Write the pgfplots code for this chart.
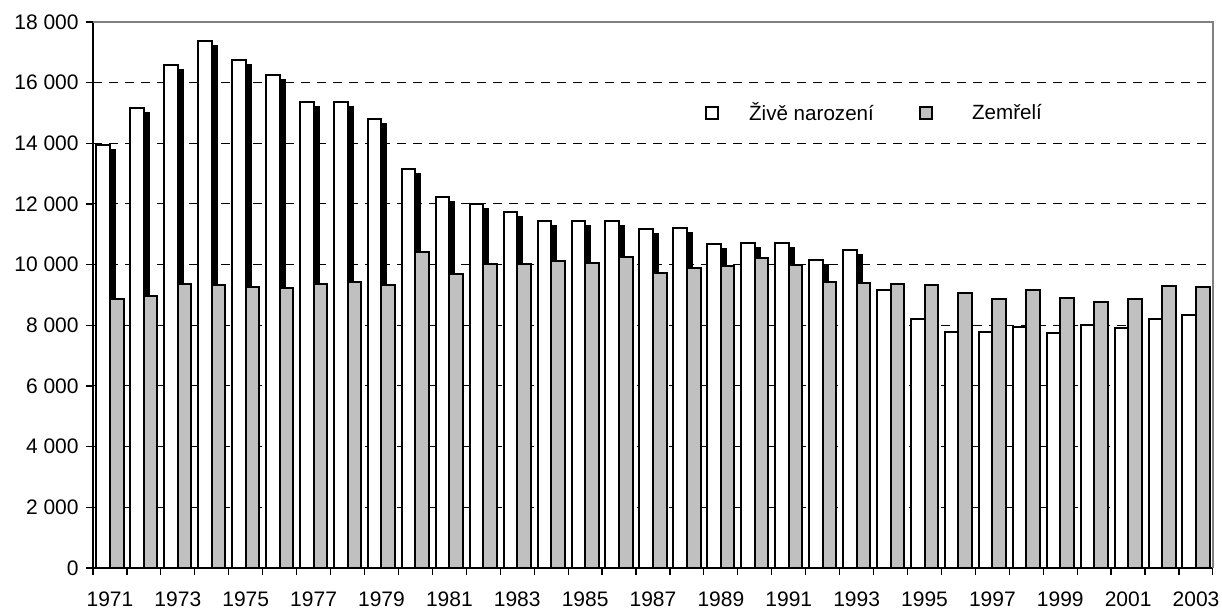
\documentclass[border=0pt]{standalone}
\usepackage{pgfplots}
\pgfplotsset{compat=1.18}
\usepackage{pgfplotstable}
\usepackage{fontspec}
\setmainfont{Liberation Sans}
\usetikzlibrary{shadows}

\definecolor{barGray}{RGB}{192,192,192}
\definecolor{frameGray}{RGB}{128,128,128}

% year, live births, deaths
\pgfplotstableread{
year born died
1971 13950 8880
1972 15150 8980
1973 16590 9360
1974 17380 9320
1975 16750 9270
1976 16250 9230
1977 15370 9370
1978 15350 9430
1979 14800 9320
1980 13150 10430
1981 12230 9680
1982 12000 10020
1983 11730 10020
1984 11430 10110
1985 11430 10050
1986 11430 10240
1987 11190 9710
1988 11210 9900
1989 10690 9970
1990 10730 10230
1991 10730 9990
1992 10140 9430
1993 10480 9410
1994 9170 9360
1995 8210 9320
1996 7780 9080
1997 7780 8870
1998 7960 9170
1999 7760 8890
2000 8010 8780
2001 7910 8860
2002 8200 9290
2003 8340 9250
}\births

\begin{document}
\fontsize{10.5}{12}\selectfont
\begin{tikzpicture}
\useasboundingbox (-46.5pt,-21pt) rectangle (564.5pt,284pt);
\begin{axis}[
  at={(0pt,0pt)}, anchor=south west,
  scale only axis, width=560pt, height=273pt,
  xmin=1970.5, xmax=2003.5,
  ymin=0, ymax=18000,
  scaled ticks=false,
  axis x line*=bottom, axis y line*=left,
  axis line style={-, black, line width=0.8pt},
  xtick={1971,1973,...,2003},
  minor xtick={1970.5,1971.5,...,2003.5},
  major x tick style={draw=none},
  minor x tick style={black, line width=0.6pt},
  ytick={0,2000,...,18000},
  yticklabels={0,{2 000},{4 000},{6 000},{8 000},{10 000},{12 000},{14 000},{16 000},{18 000}},
  y tick style={black, line width=0.6pt},
  tick align=outside,
  major tick length=3.5pt, minor tick length=3.5pt,
  xticklabel style={font=\fontsize{10.5}{12}\selectfont, yshift=-4.5pt, /pgf/number format/1000 sep={}},
  yticklabel style={font=\fontsize{10.5}{12}\selectfont},
  /pgf/number format/assume math mode=true,
  ymajorgrids=true,
  major grid style={black, line width=0.5pt, dash pattern=on 4.5pt off 3.5pt},
  legend columns=2,
  legend style={at={(0.546,0.833)}, anchor=west, draw=none, fill=none,
    font=\fontsize{10.3}{12}\selectfont, inner sep=0pt,
    /tikz/every odd column/.append style={column sep=13pt},
    /tikz/every even column/.append style={column sep=20.5pt}},
  after end axis/.code={
    \draw[frameGray, line width=0.8pt] (rel axis cs:0,1) -- (rel axis cs:1,1) -- (rel axis cs:1,0);
  },
]
\addplot[forget plot, ybar, bar width=0.4, bar shift=-0.2, draw=black, line width=1pt, fill=white,
  drop shadow={shadow xshift=2.5pt, shadow yshift=-2.5pt, fill=black, opacity=1}]
  table[x=year, y=born] {\births};
\addplot[forget plot, ybar, bar width=0.4, bar shift=0.2, draw=black, line width=1pt, fill=barGray]
  table[x=year, y=died] {\births};
\addlegendimage{legend image code/.code={\draw[black, fill=white, line width=0.9pt] (0pt,-3.1pt) rectangle (6.2pt,3.1pt);}}
\addlegendentry{Živě narození}
\addlegendimage{legend image code/.code={\draw[black, fill=barGray, line width=0.9pt] (0pt,-3.1pt) rectangle (6.2pt,3.1pt);}}
\addlegendentry{\hspace*{4.5pt}Zemřelí}
\end{axis}
\end{tikzpicture}
\end{document}
